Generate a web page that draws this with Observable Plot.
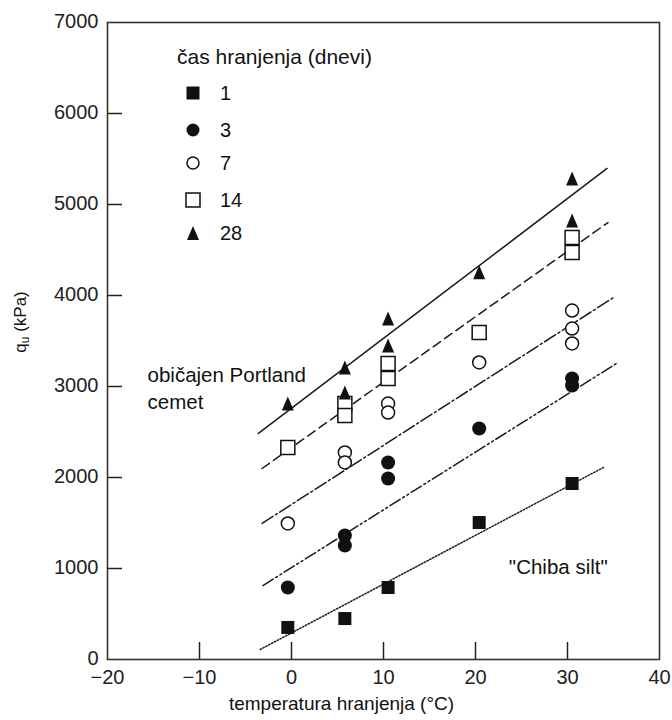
<!DOCTYPE html>
<html>
<head>
<meta charset="utf-8">
<script src="https://cdn.jsdelivr.net/npm/d3@7"></script>
<script src="https://cdn.jsdelivr.net/npm/@observablehq/plot@0.6"></script>
<style>
  html, body { margin: 0; padding: 0; background: #fff; }
</style>
</head>
<body>
<div id="chart"></div>
<script>
// ---- data (temperature °C, q_u kPa) ----
const day1 = [[-0.4, 352], [5.8, 450], [10.5, 791], [20.4, 1505], [30.5, 1934]];
const day3 = [[-0.4, 791], [5.8, 1363], [5.8, 1253], [10.5, 2165], [10.5, 1989], [20.4, 2538], [30.5, 3088], [30.5, 3011]];
const day7 = [[-0.4, 1495], [5.8, 2275], [5.8, 2165], [10.5, 2813], [10.5, 2714], [20.4, 3264], [30.5, 3835], [30.5, 3637], [30.5, 3473]];
const day14 = [[-0.4, 2330], [5.8, 2813], [5.8, 2681], [10.5, 3253], [10.5, 3088], [20.4, 3593], [30.5, 4637], [30.5, 4473]];
const day28 = [[-0.4, 2813], [5.8, 3209], [5.8, 2934], [10.5, 3747], [10.5, 3451], [20.4, 4256], [30.5, 5286], [30.5, 4824]];

// fitted trend lines (endpoints)
const fit1 = [[-3.4, 110], [33.9, 2110]];
const fit3 = [[-3.1, 813], [35.5, 3264]];
const fit7 = [[-3.2, 1495], [35.0, 3978]];
const fit14 = [[-3.2, 2099], [34.4, 4802]];
const fit28 = [[-3.6, 2484], [34.3, 5396]];

const xTicks = [-20, -10, 0, 10, 20, 30, 40];
const yTicks = [0, 1000, 2000, 3000, 4000, 5000, 6000, 7000];
const legendTitle = "čas hranjenja (dnevi)";
const legendLabels = ["1", "3", "7", "14", "28"];
const xLabel = "temperatura hranjenja (°C)";
const cementNote = [
  {text: "običajen Portland", x: -15.65, y: 3121},
  {text: "cemet", x: -15.65, y: 2824}
];
const soilNote = [{text: "\"Chiba silt\"", x: 29.0, y: 1011}];

// ---- layout ----
const W = 672, H = 720, mL = 107, mR = 13, mT = 22, mB = 61;
const frameW = W - mL - mR, frameH = H - mT - mB;
const FONT = "'Liberation Sans', Arial, Helvetica, sans-serif";
const INK = "#111";

// custom symbols
const squareSym = s => ({draw(ctx) { ctx.rect(-s / 2, -s / 2, s, s); }});
const triSym = (w, h) => ({draw(ctx) { ctx.moveTo(0, -h / 2); ctx.lineTo(w / 2, h / 2); ctx.lineTo(-w / 2, h / 2); ctx.closePath(); }});
const styles = [
  {data: day1, symbol: squareSym(13), fill: INK, stroke: "none", r: 7},
  {data: day3, symbol: "circle", fill: INK, stroke: "none", r: 7},
  {data: day7, symbol: "circle", fill: "white", stroke: INK, r: 6.5},
  {data: day14, symbol: squareSym(14), fill: "white", stroke: INK, r: 7},
  {data: day28, symbol: triSym(12, 14), fill: INK, stroke: "none", r: 7}
];
const fitStyles = [
  {data: fit1, dash: "1.4,1.8"},
  {data: fit3, dash: "12,3,2,3,2,3"},
  {data: fit7, dash: "13,3,2,3"},
  {data: fit14, dash: "9,5"},
  {data: fit28, dash: null}
];
const fmt = d => (d < 0 ? "\u2212" + Math.abs(d) : String(d));

const chart = Plot.plot({
  width: W, height: H,
  marginLeft: mL, marginRight: mR, marginTop: mT, marginBottom: mB,
  style: {fontFamily: FONT, fontSize: "20px", color: INK, background: "white"},
  x: {domain: [-20, 40]},
  y: {domain: [0, 7000]},
  marks: [
    Plot.axisX(xTicks, {tickSize: 0, tickPadding: 10, tickFormat: fmt, label: null, fill: "#222"}),
    Plot.axisY(yTicks, {tickSize: 0, tickPadding: 9, dy: -1, tickFormat: d => String(d), label: null, fill: "#222"}),
    Plot.ruleX(xTicks.slice(1, -1), {x: d => d, insetTop: frameH - 17, stroke: "#222", strokeWidth: 1.5}),
    Plot.ruleY(yTicks.slice(1, -1), {y: d => d, insetRight: frameW - 15, stroke: "#222", strokeWidth: 1.5}),
    Plot.frame({stroke: "#333", strokeWidth: 1.6}),
    ...fitStyles.map(f => Plot.line(f.data, {x: d => d[0], y: d => d[1], stroke: "#1a1a1a", strokeWidth: 1.5, strokeDasharray: f.dash})),
    ...styles.map(s => Plot.dot(s.data, {x: d => d[0], y: d => d[1], symbol: s.symbol, r: s.r, fill: s.fill, stroke: s.stroke, strokeWidth: 1.5})),
    Plot.text(cementNote, {x: "x", y: "y", text: "text", textAnchor: "start", fill: INK, fontSize: 20.5}),
    Plot.text(soilNote, {x: "x", y: "y", text: "text", textAnchor: "middle", fill: INK, fontSize: 20.5}),
    Plot.text([xLabel], {text: d => d, frameAnchor: "bottom", dx: 341 - (mL + frameW / 2), dy: 50, fill: INK, fontSize: 19})
  ]
});
document.getElementById("chart").appendChild(chart);

// ---- legend and y label ----
const svg = d3.select(chart);
const lg = svg.append("g").attr("font-family", FONT).attr("font-size", 20).attr("fill", INK).attr("text-anchor", "start");
lg.append("text").attr("x", 177).attr("y", 57).attr("dy", "0.35em").attr("font-size", 21).text(legendTitle);
const legendY = [93, 130, 163, 200, 233];
styles.forEach((s, i) => {
  const type = typeof s.symbol === "string" ? d3.symbolCircle : s.symbol;
  const size = s.symbol === "circle" ? Math.PI * (s.r - 0.5) * (s.r - 0.5) : 1;
  lg.append("path")
    .attr("transform", `translate(193,${legendY[i]})`)
    .attr("d", d3.symbol(type, size)())
    .attr("fill", s.fill).attr("stroke", s.stroke).attr("stroke-width", 1.5);
  lg.append("text").attr("x", 220).attr("y", legendY[i]).attr("dy", "0.35em").text(legendLabels[i]);
});
const yl = svg.append("text")
  .attr("transform", "translate(26,322) rotate(-90)")
  .attr("text-anchor", "middle")
  .attr("font-family", FONT).attr("font-size", 17).attr("fill", INK);
yl.append("tspan").text("q");
yl.append("tspan").attr("font-size", 12).attr("dy", 3).text("u");
yl.append("tspan").attr("dy", -3).text(" (kPa)");
</script>
</body>
</html>
